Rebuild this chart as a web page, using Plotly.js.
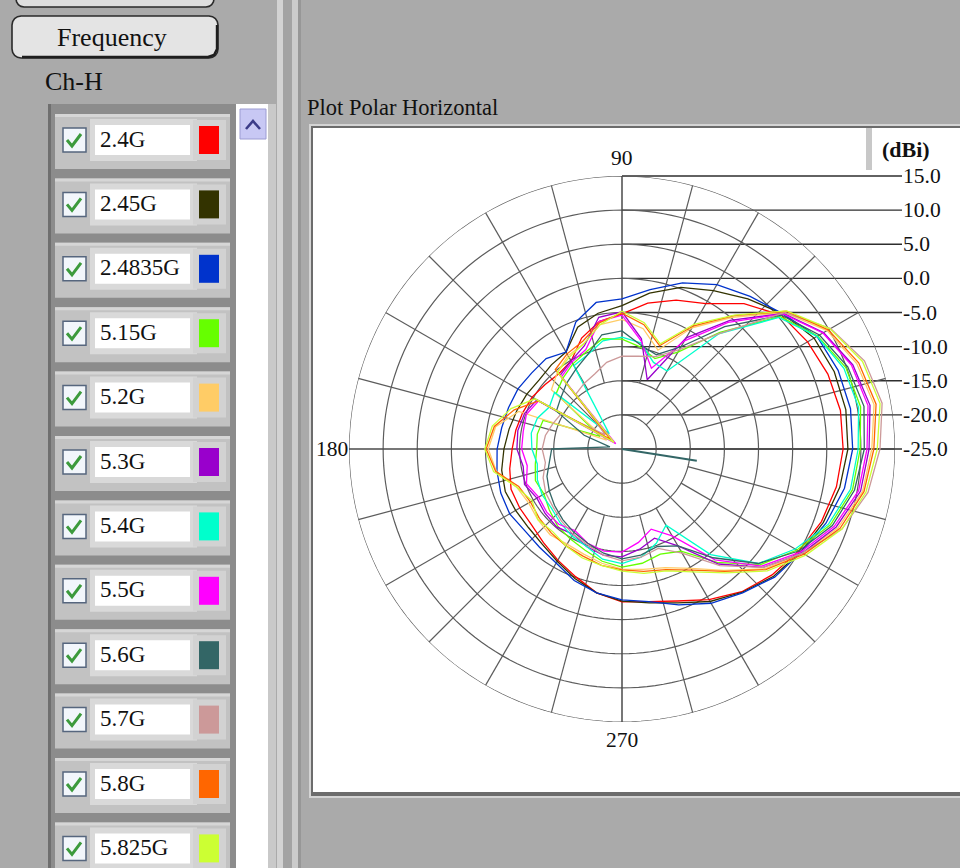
<!DOCTYPE html>
<html>
<head>
<meta charset="utf-8">
<script src="https://cdn.plot.ly/plotly-3.0.1.min.js"></script>
<style>
  html, body { margin: 0; padding: 0; background: #aaaaaa; overflow: hidden; }
  #chart { width: 960px; height: 868px; }
</style>
</head>
<body>
<div id="chart"></div>
<script>
// ---------- data ----------
const angles = [0,10,20,30,40,50,60,70,80,90,100,110,120,130,140,150,160,170,
                180,190,200,210,220,230,240,250,260,270,280,290,300,310,320,330,340,350];

const freqLabels = ['2.4G','2.45G','2.4835G','5.15G','5.2G','5.3G',
                    '5.4G','5.5G','5.6G','5.7G','5.8G','5.825G'];
const freqColors = ['#ff0000','#333300','#0033cc','#66ff00','#ffcc66','#9900cc',
                    '#00ffcc','#ff00ff','#336666','#cc9999','#ff6600','#ccff33'];

// gain in dBi, one value per entry of `angles`
const gain_2_4G    = [7.4,7.5,7.1,6.4,5.5,2.8,-0.4,-1.8,-3.3,-5.2,-6.0,-7.7,-10.1,-10.6,-10.3,-9.8,-9.5,-9.2,
                      -8.9,-8.3,-7.7,-7.7,-7.7,-7.1,-6.2,-5.1,-3.6,-2.6,-2.3,-1.3,0.5,2.3,3.7,4.9,6.1,6.9];
const gain_2_45G   = [8.1,8.3,8.1,7.5,5.8,3.7,1.8,0.2,-1.8,-4.0,-4.8,-6.0,-8.6,-8.9,-9.2,-8.9,-8.6,-8.2,
                      -7.7,-7.1,-6.8,-7.0,-7.1,-6.8,-6.0,-4.8,-3.6,-2.7,-2.1,-1.0,0.8,2.4,4.0,5.2,6.4,7.4];
const gain_2_4835G = [8.8,9.0,8.7,8.0,5.8,4.2,2.8,0.9,-1.3,-3.0,-3.2,-5.2,-8.6,-7.7,-7.7,-7.4,-7.3,-7.1,
                      -6.7,-6.4,-6.1,-6.0,-6.4,-6.2,-5.7,-4.5,-3.6,-2.9,-2.3,-0.7,1.1,2.5,4.2,5.3,6.8,8.1];
const gain_5_15G   = [9.9,10.5,9.9,8.1,5.2,-2.7,-8.6,-10.9,-9.8,-8.9,-8.6,-9.8,-10.6,-11.5,-12.4,-21.3,-12.7,-12.4,
                      -12.5,-12.1,-11.5,-11.8,-11.1,-10.3,-9.8,-9.2,-8.3,-7.7,-8.0,-8.6,-7.7,-3.3,1.4,4.6,7.5,9.3];
const gain_5_2G    = [11.6,12.5,11.6,9.7,6.1,0.2,-4.5,-9.6,-7.1,-6.0,-6.5,-8.6,-9.2,-10.3,-11.5,-22.4,-8.9,-6.2,
                      -5.4,-6.3,-8.6,-9.2,-8.9,-8.6,-8.9,-8.6,-8.0,-7.4,-7.1,-6.5,-4.8,-1.8,2.3,5.5,8.7,10.8];
const gain_5_3G    = [11.2,11.9,11.0,9.1,5.9,-0.4,-6.2,-14.2,-8.6,-4.9,-5.4,-8.9,-10.1,-10.9,-23.2,-10.6,-9.8,-9.5,
                      -9.6,-10.3,-9.8,-10.6,-10.3,-10.1,-10.6,-9.8,-9.2,-9.2,-10.1,-11.1,-8.6,-3.0,2.0,5.5,8.4,10.5];
const gain_5_4G    = [9.6,10.2,9.6,8.0,5.0,-3.0,-11.8,-11.5,-9.2,-8.6,-8.9,-10.3,-10.9,-22.1,-12.1,-12.7,-11.8,-11.5,
                      -11.8,-12.4,-11.8,-11.5,-11.5,-10.9,-10.3,-9.8,-8.6,-8.2,-8.9,-10.3,-12.1,-4.8,1.1,4.3,7.2,9.0];
const gain_5_5G    = [10.9,11.6,10.8,9.0,5.8,-0.8,-6.7,-12.4,-8.9,-5.4,-6.0,-9.5,-10.3,-11.2,-23.8,-10.9,-10.1,-10.3,
                      -10.3,-10.9,-10.1,-10.9,-10.6,-10.6,-11.2,-10.3,-9.8,-9.9,-11.1,-12.5,-10.3,-3.8,1.7,5.2,8.1,10.2];
const gain_5_6G    = [10.5,11.0,10.2,8.4,5.5,-1.6,-7.7,-10.3,-9.5,-7.7,-8.0,-10.3,-11.5,-12.4,-13.3,-13.9,-19.1,-23.2,
                      -14.7,-14.2,-13.3,-12.7,-12.1,-11.5,-10.9,-10.3,-9.5,-8.9,-9.2,-9.8,-8.6,-4.2,1.1,4.9,7.8,9.6];
const gain_5_7G    = [12.8,13.7,12.8,10.3,6.1,-3.0,-8.2,-10.6,-11.2,-11.4,-12.1,-13.3,-13.9,-14.5,-21.8,-14.7,-14.2,-13.6,
                      -13.3,-13.6,-12.7,-12.1,-11.8,-11.2,-10.6,-10.1,-9.2,-8.6,-8.9,-9.5,-7.4,-2.7,2.0,5.5,9.3,11.6];
const gain_5_8G    = [11.9,12.8,11.9,9.9,6.4,0.5,-4.2,-8.9,-6.5,-5.1,-6.2,-8.2,-8.9,-9.8,-22.8,-10.9,-8.2,-6.0,
                      -5.1,-6.2,-8.9,-9.5,-9.2,-8.9,-8.6,-8.3,-7.7,-7.3,-6.8,-6.2,-4.5,-1.6,2.5,5.8,9.0,11.0];
const gain_5_825G  = [12.4,13.4,12.5,10.2,6.5,0.6,-3.9,-8.6,-6.2,-4.8,-6.5,-8.6,-9.5,-10.3,-23.5,-10.3,-7.7,-5.7,
                      -4.9,-5.9,-8.6,-9.8,-8.9,-9.2,-8.6,-8.0,-7.7,-7.1,-6.5,-6.0,-4.2,-1.3,2.8,6.1,9.3,11.3];

// short 5.6G segment from the centre
const stub_5_6G_theta = [0, 351];
const stub_5_6G_gain  = [-25, -13.9];

const radialTicks     = [15, 10, 5, 0, -5, -10, -15, -20, -25];
const radialTickText  = ['15.0','10.0','5.0','0.0','-5.0','-10.0','-15.0','-20.0','-25.0'];
const angleTickVals   = [90, 180, 270];
const angleTickText   = ['90', '180', '270'];

const seriesGains = [gain_2_4G, gain_2_45G, gain_2_4835G, gain_5_15G, gain_5_2G, gain_5_3G,
                     gain_5_4G, gain_5_5G, gain_5_6G, gain_5_7G, gain_5_8G, gain_5_825G];

// ---------- geometry ----------
const W = 960, H = 868;
const CX = 622, CY = 449, R = 273;
const R_MIN = -25, R_MAX = 15;
const FONT = 'Liberation Serif, Times New Roman, serif';

const px = x => x / W;
const py = y => 1 - y / H;
const shapes = [];
const annotations = [];

function rect(x0, y0, x1, y1, fill, lineColor, lineWidth, layer) {
  shapes.push({
    type: 'rect', xref: 'paper', yref: 'paper',
    x0: px(x0), x1: px(x1), y0: py(y1), y1: py(y0),
    fillcolor: fill || 'rgba(0,0,0,0)',
    line: { color: lineColor || 'rgba(0,0,0,0)', width: lineWidth || 0 },
    layer: layer || 'below'
  });
}
function path(pts, o) {
  const d = pts.map((p, i) => (i ? 'L' : 'M') + px(p[0]).toFixed(5) + ',' + py(p[1]).toFixed(5)).join(' ') + (o.close ? ' Z' : '');
  shapes.push({
    type: 'path', xref: 'paper', yref: 'paper', path: d,
    fillcolor: o.fill || 'rgba(0,0,0,0)',
    line: { color: o.color || 'rgba(0,0,0,0)', width: o.width || 0 },
    layer: o.layer || 'below'
  });
}
function roundPts(x0, y0, x1, y1, r) {
  const pts = [];
  const corner = (cx, cy, a0) => {
    for (let k = 0; k <= 4; k++) {
      const a = (a0 + k * 22.5) * Math.PI / 180;
      pts.push([cx + r * Math.cos(a), cy - r * Math.sin(a)]);
    }
  };
  corner(x1 - r, y0 + r, 0);     // top-right
  corner(x0 + r, y0 + r, 90);    // top-left
  corner(x0 + r, y1 - r, 180);   // bottom-left
  corner(x1 - r, y1 - r, 270);   // bottom-right
  return pts;
}
function label(x, y, str, size, xanchor, extra) {
  annotations.push(Object.assign({
    xref: 'paper', yref: 'paper', x: px(x), y: py(y), text: str,
    showarrow: false, xanchor: xanchor || 'left', yanchor: 'middle',
    font: { family: FONT, size: size, color: '#111111' }, borderpad: 0
  }, extra || {}));
}

// ---------- left control panel ----------
// partially visible button at the top
path(roundPts(16, -20, 214, 7, 8), { fill: '#dedede', color: '#2a2a2a', width: 1.6, close: true });
// "Frequency" button
path(roundPts(12, 16, 218, 58, 9), { fill: '#e4e4e4', color: '#2a2a2a', width: 1.6, close: true });
path([[22, 57], [208, 57], [214, 55], [217, 49], [217, 25]], { color: '#1e1e1e', width: 2.4 });
label(112, 37, 'Frequency', 26, 'center');
label(44, 81, 'Ch-H', 26, 'left');

// list box frame and scroll bar
rect(48, 104, 236, 868, '#8c8c8c');
rect(48, 104, 51, 868, '#6f6f6f');
rect(236, 104, 268, 868, '#ffffff');
rect(240, 109, 266, 139, '#c8c8f4', '#9c9cd2', 1);
path([[246, 129], [253, 121], [260, 129]], { color: '#3b3b88', width: 2.6 });
rect(268, 104, 276, 868, '#c9c9c9');

// splitter bars
rect(277, 0, 283, 868, '#d3d3d3');
rect(283, 0, 292, 868, '#a3a3a3');
rect(292, 0, 298, 868, '#cbcbcb');
rect(298, 0, 301, 868, '#979797');

// one row per frequency
freqLabels.forEach((name, i) => {
  const c = 140 + 64.4 * i;
  rect(55, c - 26, 230, c + 29, '#c2c2c2');
  rect(55, c - 26, 230, c - 23, '#d6d6d6');
  rect(90, c - 21, 197, c + 21, '#d9d9d9');
  rect(95, c - 15, 190, c + 15, '#ffffff');
  rect(193, c - 20, 226, c + 20, '#d2d2d2');
  rect(199, c - 14, 219, c + 14, freqColors[i]);
  rect(63, c - 12, 86, c + 12, '#f2f6fb', '#56667e', 1.5);
  path([[67, c], [72, c + 6], [81, c - 6]], { color: '#3c9a3c', width: 3 });
  label(99, c - 1, name, 23, 'left');
});

// ---------- plot area frame ----------
label(306, 107, 'Plot Polar Horizontal', 22.5, 'left');
rect(309, 124, 965, 798, '#d4d4d4');
rect(311, 126, 965, 796, '#6c6c6c');
rect(313, 128, 965, 792, '#ffffff');
rect(866, 128, 872, 170, '#c8c8c8');
label(906, 150, '<b>(dBi)</b>', 22, 'center');

// radial scale: horizontal leader lines with values
const radiusPx = v => (v - R_MIN) / (R_MAX - R_MIN) * R;
radialTicks.forEach((v, i) => {
  const y = CY - radiusPx(v);
  path([[CX, y], [902, y]], { color: '#2e2e2e', width: 1.3 });
  label(902, y, radialTickText[i], 21.5, 'left');
});
// angle labels
angleTickVals.forEach((a, i) => {
  const t = a * Math.PI / 180;
  const ex = CX + (R + 18) * Math.cos(t), ey = CY - (R + 18) * Math.sin(t);
  if (a === 180) label(349, CY, angleTickText[i], 21.5, 'right');
  else label(ex, ey, angleTickText[i], 21.5, 'center');
});

// ---------- polar grid ----------
const traces = [];
const gridColor = '#5c5c5c';
const ringLevels = [-20, -15, -10, -5, 0, 5, 10, 15];
ringLevels.forEach(v => {
  const th = [], rr = [];
  for (let a = 0; a <= 360; a += 2) { th.push(a); rr.push(v); }
  traces.push({ type: 'scatterpolar', mode: 'lines', theta: th, r: rr,
    line: { color: gridColor, width: 1.2 }, hoverinfo: 'skip', showlegend: false });
});
for (let a = 0; a < 360; a += 15) {
  let r0;
  if (a % 90 === 0) r0 = R_MIN;
  else if (a % 45 === 0) r0 = -20;
  else r0 = -15;
  traces.push({ type: 'scatterpolar', mode: 'lines', theta: [a, a], r: [r0, R_MAX],
    line: { color: a % 90 === 0 ? '#4a4a4a' : gridColor, width: a % 90 === 0 ? 1.5 : 1.2 },
    hoverinfo: 'skip', showlegend: false });
}

// ---------- measured patterns ----------
seriesGains.forEach((g, i) => {
  traces.push({
    type: 'scatterpolar', mode: 'lines', name: freqLabels[i],
    theta: angles.concat([angles[0] + 360]),
    r: g.concat([g[0]]),
    line: { color: freqColors[i], width: 1.3 },
    showlegend: false
  });
});
traces.push({
  type: 'scatterpolar', mode: 'lines', name: '5.6G',
  theta: stub_5_6G_theta, r: stub_5_6G_gain,
  line: { color: freqColors[8], width: 2 }, showlegend: false
});

const layout = {
  width: W, height: H, autosize: false,
  margin: { l: 0, r: 0, t: 0, b: 0, pad: 0 },
  paper_bgcolor: '#aaaaaa',
  showlegend: false,
  font: { family: FONT, color: '#111111' },
  polar: {
    domain: { x: [px(CX - R), px(CX + R)], y: [py(CY + R), py(CY - R)] },
    bgcolor: 'rgba(0,0,0,0)',
    radialaxis: { range: [R_MIN, R_MAX], showgrid: false, showline: false,
                  showticklabels: false, ticks: '' },
    angularaxis: { rotation: 0, direction: 'counterclockwise', showgrid: false,
                   showline: false, showticklabels: false, ticks: '' }
  },
  shapes: shapes,
  annotations: annotations
};

Plotly.newPlot('chart', traces, layout, { staticPlot: true, displayModeBar: false });
</script>
</body>
</html>
